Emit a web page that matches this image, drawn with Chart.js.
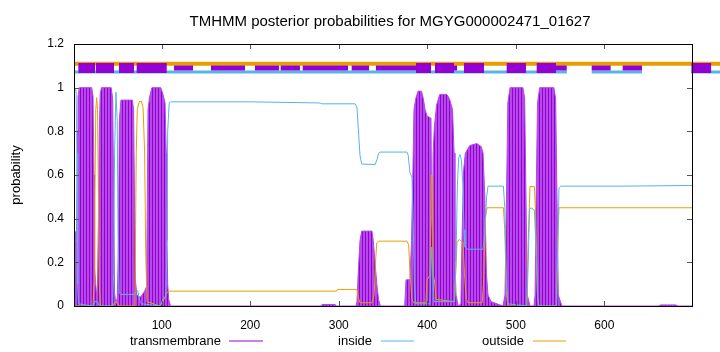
<!DOCTYPE html>
<html lang="en">
<head>
  <meta charset="UTF-8">
  <title>TMHMM posterior probabilities for MGYG000002471_01627</title>
  <script src="https://cdn.jsdelivr.net/npm/chart.js"></script>
  <style>
    body {
      margin: 0;
      background-color: #ffffff;
    }

    canvas {
      display: block;
    }
  </style>
</head>
<body>
  <canvas id="tmhmmChart" width="720" height="352"></canvas>

  <script>
    const titleText = 'TMHMM posterior probabilities for MGYG000002471_01627';
    const yAxisTitle = 'probability';
    const seriesNames = ['transmembrane', 'inside', 'outside'];

    const xTicks = [100, 200, 300, 400, 500, 600];
    const yTicks = [0, 0.2, 0.4, 0.6, 0.8, 1, 1.2];
    const yTickLabels = ['0', '0.2', '0.4', '0.6', '0.8', '1', '1.2'];

    // posterior probabilities: [residue, probability]
    const transmembrane = [
      [1, 0], [1.8, 0.34], [2.8, 0.34], [3.4, 0.05], [4, 0.3], [4.7, 0.8], [5.5, 0.96], [7, 1.0],
      [21, 1.0], [22.5, 0.96], [23.6, 0.6], [24.2, 0.17], [25.2, 0.12], [26.6, 0.04], [27.6, 0.1],
      [28.6, 0.4], [29.6, 0.8], [30.6, 0.97], [32, 1.0], [43, 1.0], [44.7, 0.95], [45.8, 0.5],
      [46.8, 0.06], [48.4, 0.01], [50, 0.04], [51.2, 0.3], [52.2, 0.85], [54, 0.943], [67, 0.943],
      [68.3, 0.9], [69.3, 0.5], [70.3, 0.12], [72, 0.05], [75.5, 0.04], [78, 0.05], [81, 0.07],
      [83, 0.09], [83.8, 0.5], [84.6, 0.9], [86.5, 0.96], [89, 1.0], [99, 1.0], [101.5, 0.97],
      [103.8, 0.93], [105.2, 0.7], [106, 0.3], [106.8, 0.1], [108, 0.03], [110, 0],
      [280, 0], [281, 0.007], [296, 0.007], [297, 0],
      [319.5, 0], [320.6, 0.02], [322, 0.15], [324, 0.3], [326, 0.343], [337.6, 0.343], [339, 0.3],
      [341, 0.2], [343, 0.1], [345, 0.03], [347, 0],
      [374.5, 0], [376, 0.12], [380.5, 0.12], [382.2, 0.3], [383.7, 0.6], [385, 0.9], [387, 0.95],
      [389.5, 0.984], [393.5, 0.984], [395.5, 0.95], [397.5, 0.9], [399.7, 0.87], [404.2, 0.86],
      [405, 0.4], [405.8, 0.3], [406.6, 0.7], [408, 0.82], [410.5, 0.92], [414, 0.969], [422, 0.969],
      [425, 0.95], [428.5, 0.9], [430.3, 0.7], [431.3, 0.2], [432.5, 0.05], [435, 0], [438, 0.01],
      [439.2, 0.3], [441, 0.62], [443, 0.7], [448, 0.735], [456, 0.744], [461, 0.73], [463, 0.7],
      [465, 0.5], [466.8, 0.15], [468.6, 0.05], [472, 0.02], [485.5, 0], [487.8, 0.05], [489.5, 0.5],
      [491, 0.93], [493.5, 1.0], [508, 1.0], [510, 0.95], [511.5, 0.5], [513, 0.05], [516, 0],
      [520.5, 0], [521.8, 0.05], [523, 0.5], [524.5, 0.93], [527, 1.0], [543, 1.0], [545, 0.95],
      [546.5, 0.5], [548, 0.05], [552, 0], [662, 0], [663, 0.005], [681, 0.005], [682, 0], [699, 0]
    ];

    const inside = [
      [1, 0.99], [3.3, 0.99], [4.4, 0.7], [5.2, 0.1], [6, 0.01], [22, 0], [24.5, 0.02], [27.5, 0.02],
      [29.5, 0], [44.5, 0], [45.8, 0.15], [46.8, 0.7], [48.4, 0.98], [49.8, 0.85], [50.8, 0.3],
      [52, 0.06], [54, 0.053], [69.5, 0.053], [71.5, 0.07], [73, 0.07], [75.5, 0.02], [77.8, 0.01],
      [98, 0], [101.5, 0.03], [104.5, 0.04], [105.7, 0.2], [106.8, 0.8], [108.5, 0.93], [110, 0.935],
      [200, 0.935], [279, 0.93], [281, 0.926], [318.4, 0.926], [320.6, 0.91], [322, 0.82], [324, 0.69],
      [326, 0.65], [341, 0.648], [343.2, 0.67], [345, 0.7], [346.6, 0.705], [377, 0.705], [378.5, 0.69],
      [380.5, 0.61], [382.7, 0.59], [384, 0.4], [385.5, 0.1], [387, 0.01], [403, 0.01], [404, 0.15],
      [405, 0.27], [406.2, 0.15], [407.6, 0.02], [431, 0.02], [432.4, 0.2], [434, 0.55], [435.5, 0.68],
      [437, 0.694], [438.5, 0.67], [440.3, 0.55], [441.5, 0.35], [442.6, 0.27], [445, 0.26], [463, 0.26],
      [465.2, 0.35], [467, 0.5], [468.6, 0.549], [486, 0.549], [487.5, 0.45], [489.5, 0.1], [491.2, 0.01],
      [512.5, 0], [514, 0.2], [515.5, 0.44], [517, 0.45], [521, 0.44], [522.5, 0.3], [524.5, 0.04],
      [526, 0], [546, 0], [547.5, 0.3], [548.8, 0.54], [551, 0.549], [620, 0.549], [699, 0.552]
    ];

    const outside = [
      [1, 0], [22.5, 0], [23.6, 0.1], [24.6, 0.5], [25.6, 0.9], [26.6, 0.954], [27.6, 0.9], [28.6, 0.5],
      [29.6, 0.1], [31, 0], [45, 0], [46.5, 0.015], [48.5, 0.02], [50.5, 0.015], [52, 0], [69.5, 0],
      [70.3, 0.25], [71.3, 0.7], [72.5, 0.9], [74.5, 0.935], [77, 0.938], [79, 0.91], [80.8, 0.7],
      [82, 0.25], [83.4, 0.02], [98, 0], [101.5, 0.02], [104, 0.045], [106, 0.06], [108, 0.068],
      [297.7, 0.068], [298.5, 0.076], [320.6, 0.076], [322, 0.04], [324, 0.015], [337.6, 0.015],
      [340, 0.05], [341.5, 0.2], [343, 0.29], [345, 0.297], [377, 0.297], [379, 0.28], [380.5, 0.15],
      [382.7, 0.03], [384.5, 0.015], [398.5, 0.015], [399.7, 0.12], [403, 0.14], [404.5, 0.6],
      [405.5, 0.6], [406.8, 0.14], [408, 0.12], [410, 0.03], [430.5, 0.02], [432, 0.15], [433.6, 0.29],
      [436, 0.305], [440.3, 0.29], [442, 0.15], [444, 0.03], [446, 0.015], [462, 0.015], [463.5, 0.1],
      [465.5, 0.4], [467.5, 0.45], [486, 0.45], [487.5, 0.35], [489.5, 0.05], [491.2, 0], [512.5, 0],
      [514, 0.3], [516, 0.547], [521, 0.547], [522.5, 0.4], [524.5, 0.05], [526, 0], [546, 0],
      [547.5, 0.3], [548.8, 0.45], [699, 0.45]
    ];

    // topology strip above the curves: [from residue, to residue]
    const stripOutside = [[1, 731]];
    const stripInside = [[1, 557.6], [585.7, 642.5], [698.4, 731]];
    const stripTmWide = [
      [5.9, 24.7], [25.8, 46.2], [51.8, 68.8], [71.8, 105.7], [387.3, 404.2], [408.7, 430.2],
      [441.5, 464.1], [489.7, 511.5], [523.6, 545.4], [698.4, 720.6]
    ];
    const stripTmNarrow = [
      [114, 135.4], [155.7, 194.1], [205.4, 232.5], [234.4, 256.2], [259.3, 310.5], [314.6, 334.2],
      [342, 388.4], [430.2, 433.6], [545.4, 557.5], [585.7, 607.1], [620.7, 642.5]
    ];
    const stripOutsideLevel = 1.11;
    const stripInsideLevel = 1.072;
    const stripTmLevel = 1.09;

    const fontFamily = "'Liberation Sans', Arial, sans-serif";
    const colors = {
      transmembrane: '#9400d3',
      inside: '#56b4e9',
      outside: '#e69f00'
    };

    function toPoints(pairs) {
      return pairs.map(p => ({ x: p[0], y: p[1] }));
    }

    function segments(list, level) {
      const pts = [];
      list.forEach(s => {
        pts.push({ x: s[0], y: level }, { x: s[1], y: level }, { x: s[1], y: null });
      });
      return pts;
    }

    const canvas = document.getElementById('tmhmmChart');
    const ctx = canvas.getContext('2d');

    // impulses look: light violet with darker vertical stripes
    function stripePattern() {
      const tile = document.createElement('canvas');
      tile.width = 3;
      tile.height = 4;
      const g = tile.getContext('2d');
      g.fillStyle = '#b54ae8';
      g.fillRect(0, 0, 3, 4);
      g.fillStyle = '#9400d3';
      g.fillRect(2, 0, 1, 4);
      return ctx.createPattern(tile, 'repeat');
    }

    const framePlugin = {
      id: 'frame',
      afterDraw(chart) {
        const c = chart.ctx;
        const a = chart.chartArea;
        const xs = chart.scales.x;
        const ys = chart.scales.y;
        c.save();

        // inward tick marks on all four sides
        c.strokeStyle = '#555';
        c.lineWidth = 1;
        c.beginPath();
        xTicks.forEach(v => {
          const px = Math.round(xs.getPixelForValue(v)) + 0.5;
          c.moveTo(px, a.bottom);
          c.lineTo(px, a.bottom - 5);
          c.moveTo(px, a.top);
          c.lineTo(px, a.top + 5);
        });
        yTicks.forEach(v => {
          const py = Math.round(ys.getPixelForValue(v)) + 0.5;
          c.moveTo(a.left, py);
          c.lineTo(a.left + 5, py);
          c.moveTo(a.right, py);
          c.lineTo(a.right - 5, py);
        });
        c.stroke();

        c.strokeStyle = '#000';
        c.strokeRect(Math.round(a.left) + 0.5, Math.round(a.top) + 0.5,
          Math.round(a.right - a.left), Math.round(a.bottom - a.top));

        // title
        c.fillStyle = '#000';
        c.font = '15px ' + fontFamily;
        c.textAlign = 'center';
        c.textBaseline = 'middle';
        c.fillText(titleText, 390, 22);

        // y axis title
        c.font = '13px ' + fontFamily;
        c.save();
        c.translate(16, 175);
        c.rotate(-Math.PI / 2);
        c.fillText(yAxisTitle, 0, 0);
        c.restore();

        // legend: text then line sample, gnuplot style
        const legendSpots = [
          { textRight: 221, x0: 229, x1: 263 },
          { textRight: 372, x0: 381, x1: 414 },
          { textRight: 524, x0: 533, x1: 566 }
        ];
        c.textAlign = 'right';
        seriesNames.forEach((name, i) => {
          const spot = legendSpots[i];
          c.fillStyle = '#000';
          c.fillText(name, spot.textRight, 341);
          c.strokeStyle = colors[name];
          c.beginPath();
          c.moveTo(spot.x0, 341);
          c.lineTo(spot.x1, 341);
          c.stroke();
        });
        c.restore();
      }
    };

    new Chart(ctx, {
      type: 'line',
      data: {
        datasets: [
          {
            label: 'tm strip wide',
            data: segments(stripTmWide, stripTmLevel),
            borderColor: colors.transmembrane,
            borderWidth: 10,
            clip: false,
            order: 0
          },
          {
            label: 'tm strip narrow',
            data: segments(stripTmNarrow, stripTmLevel),
            borderColor: colors.transmembrane,
            borderWidth: 5,
            clip: false,
            order: 1
          },
          {
            label: 'inside strip',
            data: segments(stripInside, stripInsideLevel),
            borderColor: colors.inside,
            borderWidth: 3,
            clip: false,
            order: 2
          },
          {
            label: 'outside strip',
            data: segments(stripOutside, stripOutsideLevel),
            borderColor: colors.outside,
            borderWidth: 4,
            clip: false,
            order: 3
          },
          {
            label: seriesNames[1],
            data: toPoints(inside),
            borderColor: colors.inside,
            borderWidth: 1,
            order: 4
          },
          {
            label: seriesNames[2],
            data: toPoints(outside),
            borderColor: colors.outside,
            borderWidth: 1,
            order: 5
          },
          {
            label: seriesNames[0],
            data: toPoints(transmembrane),
            borderColor: '#b04ae6',
            backgroundColor: stripePattern(),
            borderWidth: 1,
            fill: 'origin',
            order: 6
          }
        ]
      },
      options: {
        responsive: false,
        animation: false,
        spanGaps: false,
        elements: {
          point: { radius: 0 },
          line: { tension: 0, borderCapStyle: 'butt' }
        },
        layout: {
          padding: { top: 44, right: 28, left: 0, bottom: 0 }
        },
        plugins: {
          legend: { display: false },
          title: { display: false },
          tooltip: { enabled: false }
        },
        scales: {
          x: {
            type: 'linear',
            min: 1,
            max: 699,
            afterBuildTicks: s => { s.ticks = xTicks.map(v => ({ value: v })); },
            afterFit: s => { s.height = 46; },
            grid: { display: false, drawTicks: false },
            border: { display: false },
            ticks: {
              color: '#000',
              font: { family: fontFamily, size: 12 },
              padding: 12,
              maxRotation: 0,
              autoSkip: false
            }
          },
          y: {
            type: 'linear',
            min: 0,
            max: 1.2,
            afterBuildTicks: s => { s.ticks = yTicks.map(v => ({ value: v })); },
            afterFit: s => { s.width = 74; },
            grid: { display: false, drawTicks: false },
            border: { display: false },
            ticks: {
              color: '#000',
              font: { family: fontFamily, size: 12 },
              padding: 10,
              callback: (v, i) => yTickLabels[i]
            }
          }
        }
      },
      plugins: [framePlugin]
    });
  </script>
</body>
</html>
